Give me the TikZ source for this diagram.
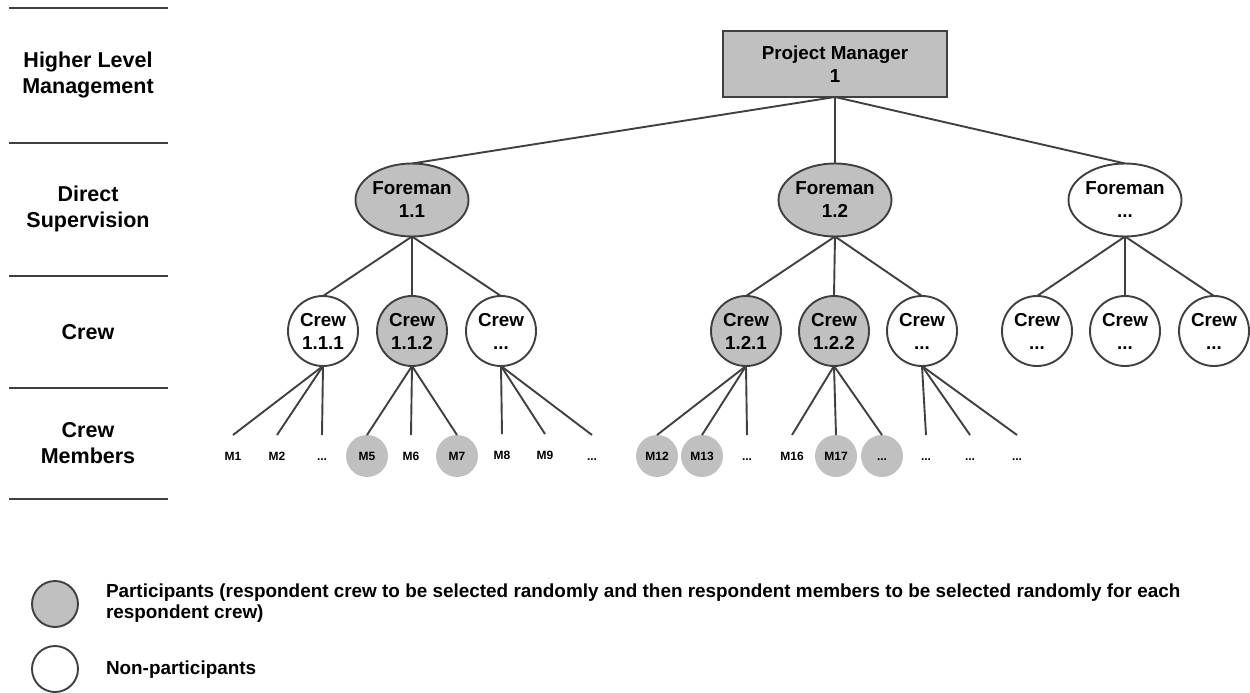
\documentclass[tikz,border=0pt]{standalone}
\usepackage{fontspec}
\setmainfont{Liberation Sans}
\usetikzlibrary{shapes.geometric}
\definecolor{ln}{RGB}{64,64,64}
\definecolor{gf}{RGB}{192,192,192}
\begin{document}
\begin{tikzpicture}[x=1pt,y=-1pt,
  every node/.style={font=\bfseries, inner sep=0pt, outer sep=0pt},
  conn/.style={draw=ln, line width=1.9pt},
  sep/.style={draw=ln, line width=2pt},
  lvl/.style={align=center, font=\bfseries\fontsize{21.5}{26}\selectfont},
  pmbox/.style={rectangle, draw=ln, line width=1.9pt, fill=gf, minimum width=224, minimum height=66, align=center, font=\bfseries\fontsize{18.8}{23}\selectfont},
  fore/.style={ellipse, draw=ln, line width=1.9pt, minimum width=113, minimum height=73, align=center, font=\bfseries\fontsize{18.8}{23}\selectfont},
  crew/.style={circle, draw=ln, line width=1.9pt, minimum size=70, align=center, font=\bfseries\fontsize{18.8}{23}\selectfont},
  mem/.style={circle, minimum size=42, text height=8.6pt, text depth=0pt, font=\bfseries\fontsize{12}{14}\selectfont},
  memp/.style={mem, fill=gf},
  leg/.style={circle, draw=ln, line width=1.9pt, minimum size=46},
  legtext/.style={anchor=west, align=left, font=\bfseries\fontsize{18.9}{21}\selectfont}
]
\useasboundingbox (0,0) rectangle (1250,693);

% left separators
\coordinate (s1a) at (9,8);   \coordinate (s1b) at (168,8);
\coordinate (s2a) at (9,143); \coordinate (s2b) at (168,143);
\coordinate (s3a) at (9,276); \coordinate (s3b) at (168,276);
\coordinate (s4a) at (9,388); \coordinate (s4b) at (168,388);
\coordinate (s5a) at (9,499); \coordinate (s5b) at (168,499);
\draw[sep] (s1a) -- (s1b);
\draw[sep] (s2a) -- (s2b);
\draw[sep] (s3a) -- (s3b);
\draw[sep] (s4a) -- (s4b);
\draw[sep] (s5a) -- (s5b);

% level labels
\node[lvl] (l1) at (88,75) {Higher Level\\Management};
\node[lvl] (l2) at (88,209) {Direct\\Supervision};
\node[lvl] (l3) at (88,332) {Crew};
\node[lvl] (l4) at (88,443) {Crew\\Members};

% top
\node[pmbox] (pm) at (835,64) {Project Manager\\1};

% foremen
\node[fore, fill=gf] (f1) at (412,200) {Foreman\\1.1};
\node[fore, fill=gf] (f2) at (835,200) {Foreman\\1.2};
\node[fore, fill=white] (f3) at (1125,200) {Foreman\\...};

% crews
\node[crew, fill=white] (c11) at (323,331) {Crew\\1.1.1};
\node[crew, fill=gf]    (c12) at (412,331) {Crew\\1.1.2};
\node[crew, fill=white] (c13) at (501,331) {Crew\\...};
\node[crew, fill=gf]    (c21) at (746,331) {Crew\\1.2.1};
\node[crew, fill=gf]    (c22) at (834,331) {Crew\\1.2.2};
\node[crew, fill=white] (c23) at (922,331) {Crew\\...};
\node[crew, fill=white] (c31) at (1037,331) {Crew\\...};
\node[crew, fill=white] (c32) at (1125,331) {Crew\\...};
\node[crew, fill=white] (c33) at (1214,331) {Crew\\...};

% members
\node[mem]  (m1)  at (233,456) {M1};
\node[mem]  (m2)  at (277,456) {M2};
\node[mem]  (m3)  at (322,456) {...};
\node[memp] (m5)  at (367,456) {M5};
\node[mem]  (m6)  at (411,456) {M6};
\node[memp] (m7)  at (457,456) {M7};
\node[mem]  (m8)  at (502,455) {M8};
\node[mem]  (m9)  at (545,455) {M9};
\node[mem]  (m10) at (592,456) {...};
\node[memp] (m12) at (657,456) {M12};
\node[memp] (m13) at (702,456) {M13};
\node[mem]  (m14) at (747,456) {...};
\node[mem]  (m16) at (792,456) {M16};
\node[memp] (m17) at (836,456) {M17};
\node[memp] (m18) at (882,456) {...};
\node[mem]  (m19) at (926,456) {...};
\node[mem]  (m20) at (970,456) {...};
\node[mem]  (m21) at (1017,456) {...};

% connectors
\foreach \f in {f1,f2,f3} \draw[conn] (pm.south) -- (\f.north);
\foreach \c in {c11,c12,c13} \draw[conn] (f1.south) -- (\c.north);
\foreach \c in {c21,c22,c23} \draw[conn] (f2.south) -- (\c.north);
\foreach \c in {c31,c32,c33} \draw[conn] (f3.south) -- (\c.north);
\foreach \m in {m1,m2,m3} \draw[conn] (c11.south) -- (\m.north);
\foreach \m in {m5,m6,m7} \draw[conn] (c12.south) -- (\m.north);
\foreach \m in {m8,m9,m10} \draw[conn] (c13.south) -- (\m.north);
\foreach \m in {m12,m13,m14} \draw[conn] (c21.south) -- (\m.north);
\foreach \m in {m16,m17,m18} \draw[conn] (c22.south) -- (\m.north);
\foreach \m in {m19,m20,m21} \draw[conn] (c23.south) -- (\m.north);

% legend
\node[leg, fill=gf]    (lg1) at (55,604) {};
\node[leg, fill=white] (lg2) at (55,669) {};
\node[legtext] (lt1) at (106,603.5) {Participants (respondent crew to be selected randomly and then respondent members to be selected randomly for each\\respondent crew)};
\node[legtext] (lt2) at (106,670) {Non-participants};
\end{tikzpicture}
\end{document}
